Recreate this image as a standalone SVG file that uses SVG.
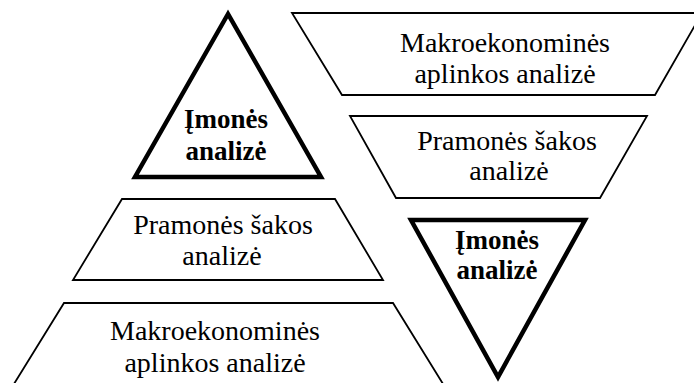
<svg xmlns="http://www.w3.org/2000/svg" width="694" height="383" viewBox="0 0 694 383">
<style>
.trap{fill:#fff;stroke:#000;stroke-width:1.8;stroke-linejoin:miter}
.tri{fill:#fff;stroke:#000;stroke-width:4.5;stroke-linejoin:miter}
text{font-size:28px;fill:#000;text-anchor:middle}
.b{font-weight:bold;font-size:27px}
</style>
<rect width="694" height="383" fill="#fff"/>
<g font-family="Liberation Serif, Times New Roman, DejaVu Serif, serif">
<g id="left-firm">
<polygon class="tri" points="228,14 135,177 321,177"/>
<text class="b" x="226" y="128">Įmonės</text>
<text class="b" x="226" y="160">analizė</text>
</g>
<g id="left-industry">
<polygon class="trap" points="122,199 335,199 383,280 73,280"/>
<text x="223" y="234">Pramonės šakos</text>
<text x="222" y="265">analizė</text>
</g>
<g id="left-macro">
<polygon class="trap" points="64,303 393,303 448,392 9,392"/>
<text x="215" y="340">Makroekonominės</text>
<text x="215" y="372">aplinkos analizė</text>
</g>
<g id="right-macro">
<polygon class="trap" points="292,13 702,13 655,95 342,95"/>
<text x="505" y="52">Makroekonominės</text>
<text x="505" y="83">aplinkos analizė</text>
</g>
<g id="right-industry">
<polygon class="trap" points="350,116 647,116 600,198 396,198"/>
<text x="507" y="150">Pramonės šakos</text>
<text x="509" y="180">analizė</text>
</g>
<g id="right-firm">
<polygon class="tri" points="411,220 585,220 498,377"/>
<text class="b" x="497" y="249">Įmonės</text>
<text class="b" x="497" y="279">analizė</text>
</g>
</g>
<g id="connectors"></g>
</svg>
